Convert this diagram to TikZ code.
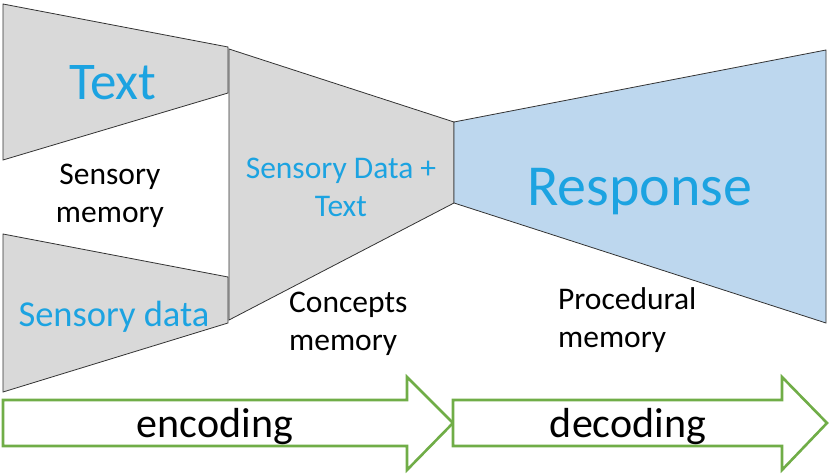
\documentclass[tikz,border=0pt]{standalone}
\usepackage{fontspec}
\setmainfont{Carlito}
\usepackage{xcolor}
\usepackage{tikz}
\definecolor{memgrey}{RGB}{217,217,217}
\definecolor{respblue}{RGB}{189,215,238}
\definecolor{labelblue}{RGB}{28,163,225}
\definecolor{flowgreen}{RGB}{112,173,71}

\tikzset{
  stage/.style={draw=black!80, line width=0.8pt, line join=miter},
  flow/.style={draw=flowgreen, line width=2.6pt, fill=white, line join=miter},
  memlabel/.style={align=center, inner sep=0pt, font=\fontsize{31.5}{38}\selectfont},
  biglabel/.style={text=labelblue, inner sep=0pt, anchor=base},
  flowlabel/.style={inner sep=0pt, anchor=base, font=\fontsize{42}{44}\selectfont},
}

\begin{document}
\begin{tikzpicture}[x=1pt, y=-1pt]
\useasboundingbox (0,0) rectangle (830,476);
% sensory memory funnels
\draw[stage, fill=memgrey] (3,4) -- (228,47) -- (228,93) -- (3,160) -- cycle;
\draw[stage, fill=memgrey] (3,234) -- (228,277) -- (228,323) -- (3,392) -- cycle;
% concepts memory
\draw[stage, fill=memgrey] (229,49) -- (454,122) -- (454,203) -- (229,320) -- cycle;
% procedural memory
\draw[stage, fill=respblue] (454,122) -- (826,50) -- (826,323) -- (454,203) -- cycle;
% encoding / decoding arrows
\draw[flow] (3,400) -- (407,400) -- (407,377) -- (453,423) -- (407,470) -- (407,446) -- (3,446) -- cycle;
\draw[flow] (453,400) -- (782,400) -- (782,377) -- (827,423) -- (782,470) -- (782,446) -- (453,446) -- cycle;

\node[biglabel, font=\fontsize{53}{60}\selectfont] (text) at (113,100) {Text};
\node[biglabel, font=\fontsize{36.5}{40}\selectfont] (sdata) at (114,326) {Sensory data};
\node[text=labelblue, memlabel] (combined) at (341,187) {Sensory Data +\\Text};
\node[biglabel, font=\fontsize{58}{60}\selectfont] (response) at (640,205) {Response};
\node[memlabel] (sensmem) at (110,196) {Sensory\\memory};
\node[memlabel, align=left, anchor=west] (concmem) at (289,324) {Concepts\\memory};
\node[memlabel, align=left, anchor=west] (procmem) at (558,320) {Procedural\\memory};
\node[flowlabel] (enc) at (215,437) {encoding};
\node[flowlabel] (dec) at (628,437) {decoding};
\end{tikzpicture}
\end{document}
